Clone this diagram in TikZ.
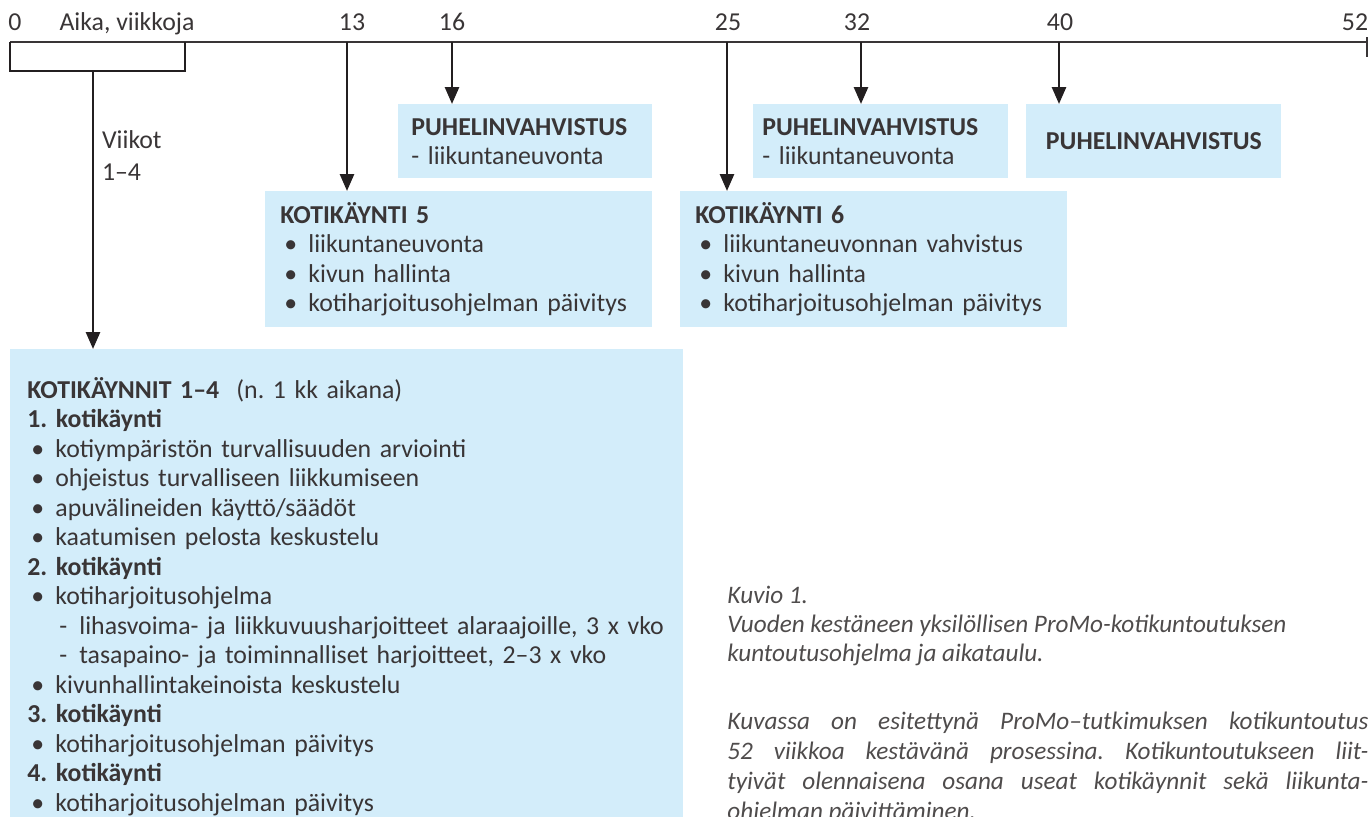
\documentclass[tikz,border=0pt]{standalone}
\usepackage{fontspec}
\setmainfont{Carlito}
\usetikzlibrary{arrows.meta, positioning}

\definecolor{boxblue}{RGB}{211,237,250}
\definecolor{ink}{RGB}{35,31,32}
\newcommand{\bul}{\hspace*{2pt}\makebox[12pt][l]{\textbullet}}
\newcommand{\dsh}{\hspace*{16pt}\makebox[10pt][l]{-}}
\frenchspacing

\begin{document}
\begin{tikzpicture}[x=0.5pt, y=-0.5pt,
        box/.style={rectangle, fill=boxblue, anchor=north west, align=left,
                    inner xsep=7.5pt, inner ysep=4pt, text=ink!90,
                    font=\fontsize{12.9}{14.75}\selectfont},
        arr/.style={-{Triangle[length=8.5pt,width=7pt]}, line width=1.35pt, ink},
        axis/.style={line width=1.4pt, ink!90},
        brk/.style={line width=1.25pt, ink},
        wk/.style={anchor=base, text=ink!90, font=\fontsize{12.9}{14}\selectfont},
        capt/.style={anchor=north west, inner sep=0pt, text=ink!80,
                     font=\fontsize{12.6}{14.5}\selectfont\itshape}]
      \useasboundingbox (0,0) rectangle (1371,816);
      % time axis
      \coordinate (t0) at (10,42);
      \coordinate (t4) at (185,42);
      \coordinate (t52) at (1367,42);
      \draw[axis] (t0) -- (t52);
      \draw[axis] (1367,37) -- (1367,57);
      \foreach \x/\w in {15/0, 352/13, 452/16, 728/25, 857/32, 1060/40, 1355/52}
        \node[wk] (w\w) at (\x,30) {\w};
      \node[wk] (aika) at (127,30) {Aika, viikkoja};
      \draw[brk] (t0) |- (93,71) coordinate (bm) -| (t4);
      \node[anchor=west, align=left, text=ink!90, font=\fontsize{12.9}{16}\selectfont] (viikot) at (95,156) {Viikot\\1--4};
      % boxes
      \node[box, text width=114pt, minimum height=37pt, inner xsep=6.5pt] (ph16) at (398,104)
        {\textbf{PUHELINVAHVISTUS}\\- liikuntaneuvonta};
      \node[box, text width=118.5pt, minimum height=37pt, inner xsep=4.5pt] (ph32) at (753,104)
        {\textbf{PUHELINVAHVISTUS}\\- liikuntaneuvonta};
      \node[box, text width=117.5pt, minimum height=37pt, inner xsep=5pt, align=center] (ph40) at (1026,104)
        {\textbf{PUHELINVAHVISTUS}};
      \node[box, text width=178.5pt, minimum height=68pt] (k5) at (265,191)
        {\textbf{KOTIKÄYNTI 5}\\
         \bul liikuntaneuvonta\\
         \bul kivun hallinta\\
         \bul kotiharjoitusohjelman päivitys};
      \node[box, text width=178.5pt, minimum height=68pt] (k6) at (680,191)
        {\textbf{KOTIKÄYNTI 6}\\
         \bul liikuntaneuvonnan vahvistus\\
         \bul kivun hallinta\\
         \bul kotiharjoitusohjelman päivitys};
      \node[box, text width=319.5pt, inner xsep=8.5pt, inner ysep=14pt] (main) at (10,349)
        {\textbf{KOTIKÄYNNIT 1--4}\ \ (n. 1 kk aikana)\\
         \textbf{1. kotikäynti}\\
         \bul kotiympäristön turvallisuuden arviointi\\
         \bul ohjeistus turvalliseen liikkumiseen\\
         \bul apuvälineiden käyttö/säädöt\\
         \bul kaatumisen pelosta keskustelu\\
         \textbf{2. kotikäynti}\\
         \bul kotiharjoitusohjelma\\
         \dsh lihasvoima- ja liikkuvuusharjoitteet alaraajoille, 3 x vko\\
         \dsh tasapaino- ja toiminnalliset harjoitteet, 2--3 x vko\\
         \bul kivunhallintakeinoista keskustelu\\
         \textbf{3. kotikäynti}\\
         \bul kotiharjoitusohjelman päivitys\\
         \textbf{4. kotikäynti}\\
         \bul kotiharjoitusohjelman päivitys};
      % arrows from the axis
      \foreach \x/\w/\b in {347/13/k5, 452/16/ph16, 727/25/k6, 861/32/ph32, 1059/40/ph40}
        \draw[arr] (\x,42) coordinate (a\w) -- (a\w |- \b.north);
      \draw[arr] (bm) -- (bm |- main.north);
      % caption
      \node[capt, align=left] (kuvio) at (727,586)
        {Kuvio 1.\\Vuoden kestäneen yksilöllisen ProMo-kotikuntoutuksen\\kuntoutusohjelma ja aikataulu.};
      \node[capt, align=justify, text width=320.5pt, font=\fontsize{12.6}{15}\selectfont\itshape] (kuvassa) at (727,712)
        {Kuvassa on esitettynä ProMo--tutkimuksen kotikuntoutus\linebreak
         52 viikkoa kestävänä prosessina. Kotikuntoutukseen liit-\linebreak
         tyivät olennaisena osana useat kotikäynnit sekä liikunta-\linebreak
         ohjelman päivittäminen.};
    \end{tikzpicture}
\end{document}
